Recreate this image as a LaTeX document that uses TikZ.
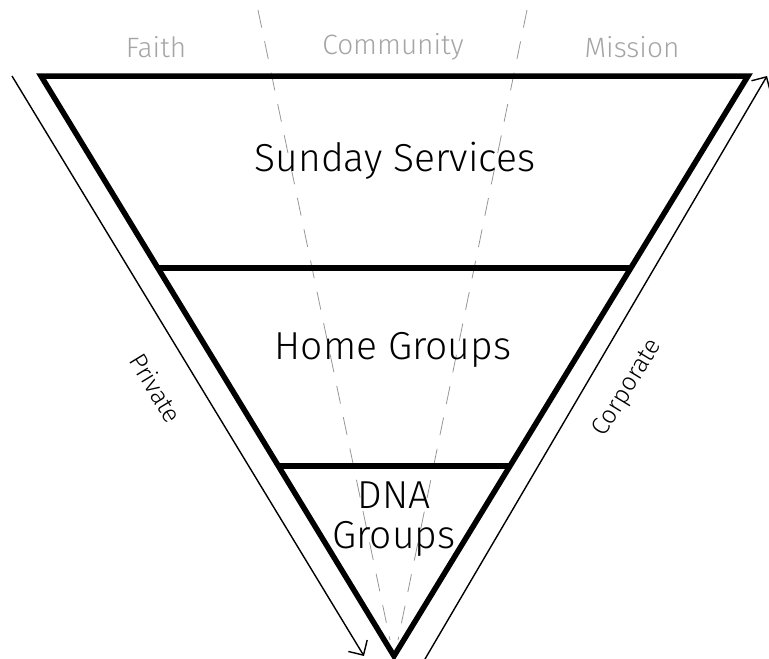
\documentclass[tikz,border=0pt]{standalone}
\usepackage{fontspec}
\setmainfont{Fira Sans Light}
\usetikzlibrary{arrows.meta}
\definecolor{labelgray}{RGB}{165, 165, 165}
\definecolor{dashgray}{RGB}{150, 150, 150}

\begin{document}
\begin{tikzpicture}[x=1pt, y=-1pt, >={Straight Barb[length=11pt, width=22pt]},
    outline/.style={line width=5.5pt},
    sideline/.style={line width=1.4pt},
    guide/.style={dashgray, line width=0.8pt, dash pattern=on 18pt off 14pt},
    toplabel/.style={labelgray, font=\fontsize{28}{32}\selectfont},
    tierlabel/.style={font=\fontsize{39}{40}\selectfont, align=center},
    sidelabel/.style={font=\fontsize{25}{30}\selectfont}]
    \useasboundingbox (0,0) rectangle (769,659);
    % triangle corners and cuts
    \coordinate (tl) at (41,76);
    \coordinate (tr) at (748,76);
    \coordinate (apex) at (394,656);
    \coordinate (ml) at (158,268);
    \coordinate (mr) at (630,268);
    \coordinate (ll) at (279,466);
    \coordinate (lr) at (510,466);
    % guide lines
    \coordinate (faithtop) at (258,10);
    \coordinate (faithbot) at (390,640);
    \coordinate (missiontop) at (527,10);
    \coordinate (missionbot) at (398,640);
    \draw[guide] (faithtop) -- (faithbot);
    \draw[guide] (missiontop) -- (missionbot);
    \draw[outline] (tl) -- (tr) -- (apex) -- cycle;
    \draw[outline] (ml) -- (mr);
    \draw[outline] (ll) -- (lr);
    % side arrows
    \coordinate (privstart) at (12,76);
    \coordinate (privend) at (364,656);
    \coordinate (corpstart) at (425,659);
    \coordinate (corpend) at (767,76);
    \draw[->, sideline] (privstart) -- (privend);
    \draw[->, sideline] (corpstart) -- (corpend);
    \node[toplabel] (faith) at (156,47) {Faith};
    \node[toplabel] (community) at (393,47) {Community};
    \node[toplabel] (mission) at (632,47) {Mission};
    \node[tierlabel] (sunday) at (395,161) {Sunday Services};
    \node[tierlabel] (home) at (393,350) {Home Groups};
    \node[tierlabel] (dna) at (394,519) {DNA\\Groups};
    \node[sidelabel, rotate=-58.7] (private) at (156,388) {Private};
    \node[sidelabel, rotate=58.6] (corporate) at (628,388) {Corporate};
  \end{tikzpicture}
\end{document}
